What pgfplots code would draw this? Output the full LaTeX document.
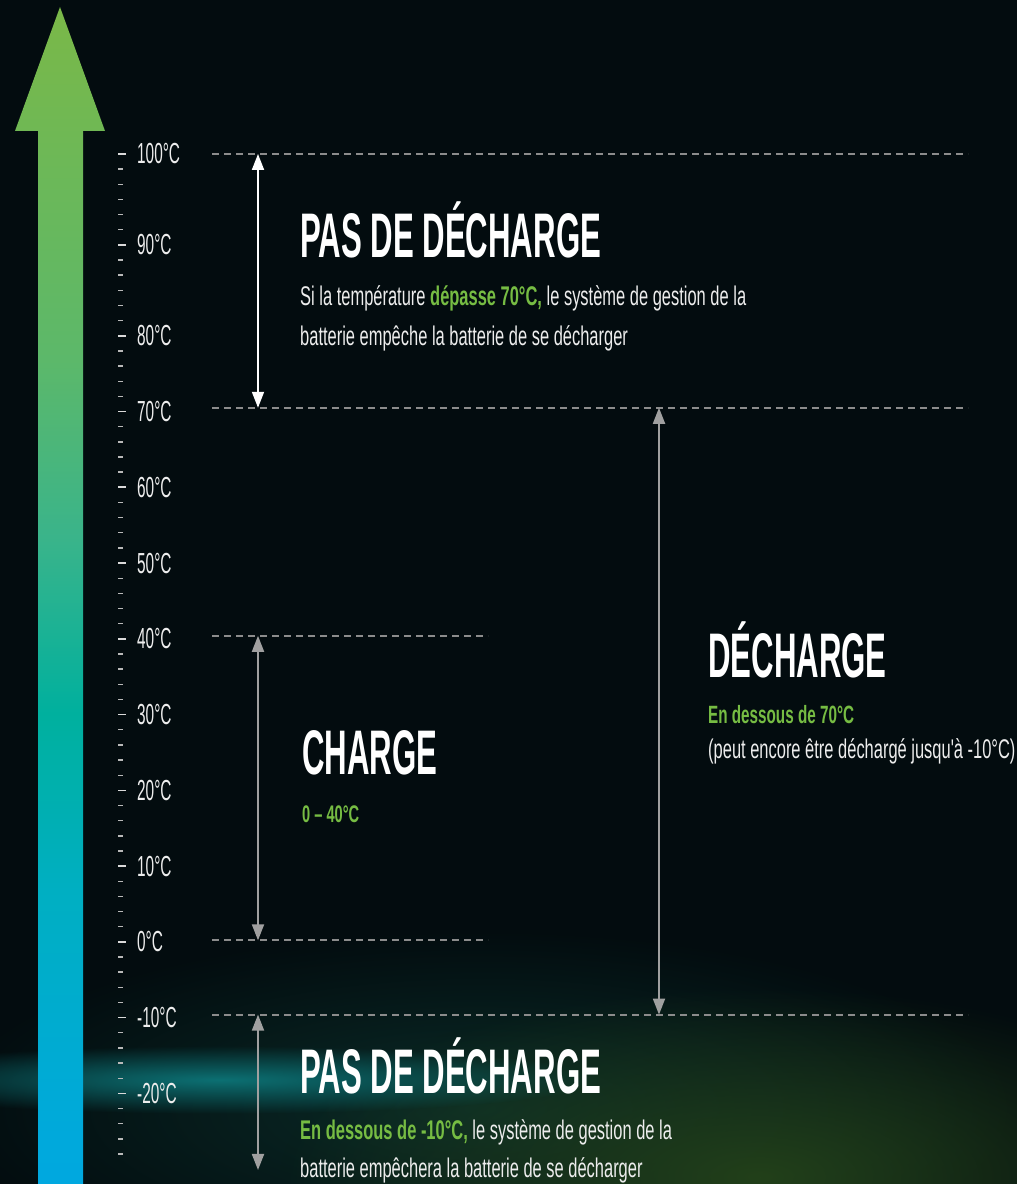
\documentclass[border=0pt]{standalone}
\usepackage{pgfplots}
\pgfplotsset{compat=1.18}
\usepackage{fontspec}
\usetikzlibrary{arrows.meta,fadings}
\setmainfont{Liberation Sans}
\newfontfamily\tickfont{Liberation Sans}[FakeStretch=0.53]
\newfontfamily\bodyfont{Liberation Sans}[FakeStretch=0.61]
\newfontfamily\titlefont{Liberation Sans}[FakeStretch=0.495]
\definecolor{bg}{HTML}{030C0F}
\definecolor{brandgreen}{HTML}{76BC43}
\definecolor{dashgray}{HTML}{8C8C8C}
\definecolor{arrowgray}{HTML}{A0A0A0}
\definecolor{tickgray}{HTML}{DADADA}
\definecolor{bodywhite}{HTML}{EDEDED}
\definecolor{streak}{HTML}{0C7073}
\definecolor{glowgreen}{HTML}{22401A}
\definecolor{glowteal}{HTML}{0A2C28}
\definecolor{cA}{HTML}{00A8E0}
\definecolor{cB}{HTML}{00AFC2}
\definecolor{cC}{HTML}{00B09E}
\definecolor{cD}{HTML}{3AB48A}
\definecolor{cE}{HTML}{5CB86A}
\definecolor{cF}{HTML}{7AB848}
\pgfdeclareverticalshading{arrowshade}{100bp}{color(0bp)=(cA); color(25bp)=(cA); color(37.5bp)=(cB); color(45bp)=(cC); color(52.5bp)=(cD); color(60bp)=(cE); color(75bp)=(cF); color(100bp)=(cF)}
\tikzfading[name=glow, inner color=transparent!0, outer color=transparent!100]
\tikzset{
  dashline/.style={draw=dashgray, line width=1.8pt, dash pattern=on 7pt off 5pt},
  dblarrow/.style={line width=1.8pt, arrows={Triangle[width=12pt,length=16pt]-Triangle[width=12pt,length=16pt]}},
  title text/.style={anchor=base west, inner sep=0pt, text=white, font=\titlefont\bfseries\fontsize{63}{63}\selectfont},
  body text/.style={anchor=base west, inner sep=0pt, text=bodywhite, font=\bodyfont\fontsize{27}{27}\selectfont},
}
\begin{document}
\begin{tikzpicture}
\begin{axis}[
  at={(0,0)}, anchor=south west,
  width=1017pt, height=1184pt, scale only axis,
  xmin=0, xmax=1017, ymin=-31.96, ymax=116.94,
  % the printed scale is stretched above 80 degC (6 minor steps per 10 degC)
  y coord trafo/.code={\pgfmathparse{(#1)>80 ? 80+((#1)-80)*1.2 : (#1)}},
  y coord inv trafo/.code={\pgfmathparse{(#1)>80 ? 80+((#1)-80)/1.2 : (#1)}},
  axis background/.style={fill=bg},
  axis line style={draw=none},
  xtick=\empty,
  ytick={-20,-10,0,10,20,30,40,50,60,70,80,90,100},
  yticklabels={-20°C,-10°C,0°C,10°C,20°C,30°C,40°C,50°C,60°C,70°C,80°C,90°C,100°C},
  minor ytick={-28,-26,-24,-22,-18,-16,-14,-12,-8,-6,-4,-2,2,4,6,8,12,14,16,18,22,24,26,28,32,34,36,38,42,44,46,48,52,54,56,58,62,64,66,68,72,74,76,78,81.667,83.333,85,86.667,88.333,91.667,93.333,95,96.667,98.333},
  ytick pos=left, tick align=inside,
  major tick length=8pt, minor tick length=5pt,
  major tick style={draw=tickgray, line width=1.7pt, xshift=118pt},
  minor tick style={draw=tickgray!85!black, line width=1.4pt, xshift=118pt},
  yticklabel style={font=\tickfont\fontsize{29}{29}\selectfont, text=bodywhite, anchor=west, xshift=137pt, inner sep=0pt},
  axis on top,
]
% background glows
\fill[glowteal, path fading=glow] (axis cs:480,-22) ellipse [x radius=540pt, y radius=180pt];
\fill[glowgreen, path fading=glow] (axis cs:760,-31) ellipse [x radius=480pt, y radius=190pt];
\fill[streak, path fading=glow] (axis cs:220,-18.2) ellipse [x radius=380pt, y radius=34pt];

% gradient thermometer arrow
\addplot[draw=none, shade, shading=arrowshade] coordinates {(38,-31.96) (38,102.53) (15,102.53) (60,116.17) (105,102.53) (83,102.53) (83,-31.96)} -- cycle;

% threshold lines
\addplot[dashline] coordinates {(212,100) (968,100)};
\addplot[dashline] coordinates {(212,70.5) (968,70.5)};
\addplot[dashline] coordinates {(212,40.4) (488,40.4)};
\addplot[dashline] coordinates {(212,0.2) (488,0.2)};
\addplot[dashline] coordinates {(212,-9.6) (968,-9.6)};

% range arrows
\addplot[dblarrow, white] coordinates {(258,100) (258,70.5)};
\addplot[dblarrow, arrowgray] coordinates {(258,40.4) (258,0.2)};
\addplot[dblarrow, arrowgray] coordinates {(659,70.5) (659,-9.6)};
\addplot[dblarrow, arrowgray] coordinates {(258,-9.6) (258,-30.11)};

% texts
\node[title text] at (axis cs:300,88.56) {PAS DE DÉCHARGE};
\node[body text] at (axis cs:300,83.28) {Si la température {\bfseries\color{brandgreen}dépasse 70°C,} le système de gestion de la};
\node[body text] at (axis cs:300,78.66) {batterie empêche la batterie de se décharger};

\node[title text] at (axis cs:708,34.96) {DÉCHARGE};
\node[body text, text=brandgreen, font=\bodyfont\bfseries\fontsize{25}{25}\selectfont] at (axis cs:708,28.89) {En dessous de 70°C};
\node[body text] at (axis cs:708,24.27) {(peut encore être déchargé jusqu'à -10°C)};

\node[title text] at (axis cs:302,22.03) {CHARGE};
\node[body text, text=brandgreen, font=\bodyfont\bfseries\fontsize{24}{24}\selectfont] at (axis cs:302,15.82) {0 – 40°C};

\node[title text] at (axis cs:300,-19.95) {PAS DE DÉCHARGE};
\node[body text] at (axis cs:300,-26.15) {{\bfseries\color{brandgreen}En dessous de -10°C,} le système de gestion de la};
\node[body text] at (axis cs:300,-31.04) {batterie empêchera la batterie de se décharger};
\end{axis}
\pgfresetboundingbox
\useasboundingbox (0,0) rectangle (1017pt,1184pt);
\end{tikzpicture}
\end{document}
